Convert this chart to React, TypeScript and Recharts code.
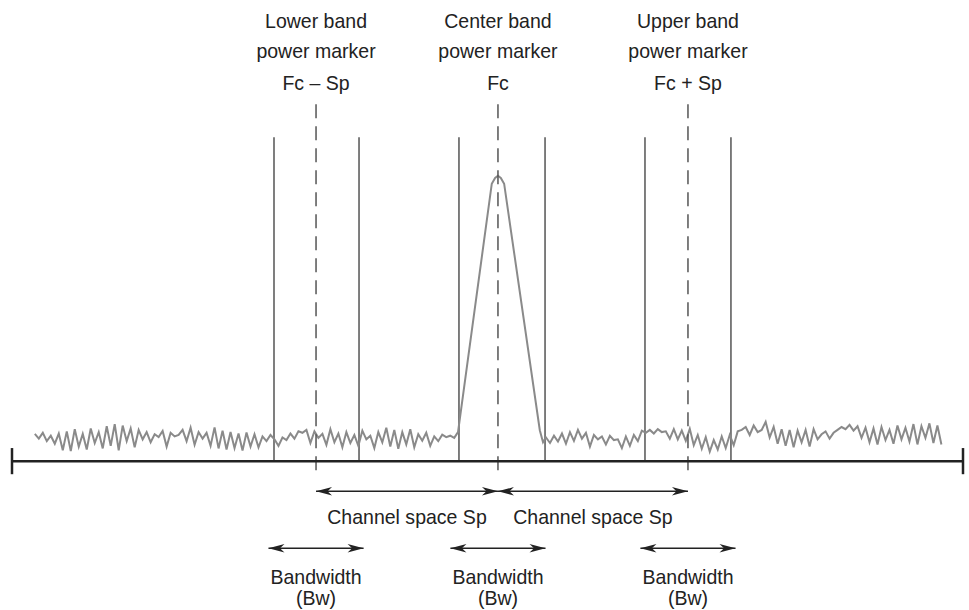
import { ComposedChart, Line, XAxis, YAxis, ReferenceLine } from 'recharts'

// frequency units 0..100 across the axis, level units above the baseline
const markerFreqs = [31.97, 51.1, 71.08]
const markerTitles = [
  ['Lower band', 'power marker', 'Fc – Sp'],
  ['Center band', 'power marker', 'Fc'],
  ['Upper band', 'power marker', 'Fc + Sp'],
]
const bandEdges = [
  [27.55, 36.49],
  [47.0, 56.05],
  [66.56, 75.6],
]
const bwHalf = 5.0
const channelLabel = 'Channel space Sp'
const bwLabel = ['Bandwidth', '(Bw)']

const bandTop = 89.2
const markerTop = 99.4
const markerBottom = -2.5
const channelArrowLevel = -8.3
const bwArrowLevel = -24

// sweep bins
const sweepStep = 0.42
const leftStart = 2.4
const leftLevels = [
  7.5, 6.2, 7.8, 5.5, 7.0, 4.8, 7.6,
  3.0, 8.2, 2.8, 8.8, 4.0, 7.5, 3.2, 9.0, 5.0, 8.0,
  3.5, 9.6, 4.2, 10.2, 3.0, 9.8, 5.5, 9.0, 3.8, 8.6,
  6.0, 8.0, 5.2, 7.4, 6.6, 8.3, 4.0, 7.8, 6.8, 7.2,
  8.6, 5.5, 9.2, 4.5, 8.0, 6.2, 7.8, 4.2, 9.3, 3.5,
  8.4, 3.2, 8.0, 3.6, 7.6, 2.9, 7.9, 4.0, 7.4, 3.8,
  6.8, 5.5, 7.2, 6.0, 4.2, 6.5, 5.8, 7.6, 6.2, 8.2,
  7.8, 8.6, 5.0, 8.2, 6.4, 7.5, 4.5, 8.8, 5.2, 7.6,
  3.8, 8.0, 5.0, 7.2, 4.2, 8.4, 6.0, 7.0, 3.6, 8.0,
  5.2, 9.2, 4.0, 8.6, 3.4, 8.0, 4.6, 8.8, 3.8, 7.4,
  5.6, 7.8, 4.2, 6.8, 5.5, 7.3, 6.6, 7.0, 6.4,
]
const peakFreqs = [46.9, 50.45, 50.8, 51.1, 51.4, 51.75, 55.5, 55.84]
const peakLevels = [8.0, 76.4, 78.0, 78.6, 78.0, 76.4, 8.5, 5.2]
const rightStart = 56.15
const rightLevels = [
  6.5, 5.0, 7.0, 5.4, 7.6, 4.8, 8.0, 5.6, 8.6, 6.2,
  7.8, 4.0, 7.2, 6.0, 6.8, 4.6, 7.0, 5.8, 6.0, 3.6,
  6.8, 4.2, 7.2, 5.5, 8.4, 7.8, 8.6, 7.6, 8.8, 8.0,
  8.2, 6.2, 8.8, 6.0, 8.4, 5.6, 8.9, 4.4, 7.2, 3.4,
  6.6, 2.6, 5.8, 3.2, 6.8, 3.6, 7.2, 4.4, 8.2, 8.6,
  9.4, 7.2, 9.8, 8.0, 8.6, 10.8, 6.5, 9.4, 4.8, 8.8,
  4.2, 8.6, 3.8, 8.4, 5.2, 8.6, 4.0, 8.8, 6.0, 7.4,
  8.2, 6.2, 7.8, 8.6, 9.4, 8.8, 10.0, 8.4, 9.6, 6.4,
  9.2, 5.2, 9.0, 4.6, 9.4, 5.8, 8.6, 4.8, 9.8, 6.0,
  9.2, 5.4, 10.2, 4.6, 9.6, 6.4, 10.4, 5.0, 9.8, 4.6,
]

const spectrum = [
  ...leftLevels.map((level, i) => ({ f: leftStart + i * sweepStep, level })),
  ...peakLevels.map((level, i) => ({ f: peakFreqs[i], level })),
  ...rightLevels.map((level, i) => ({ f: rightStart + i * sweepStep, level })),
]

const FONT = "'Liberation Sans Narrow', 'Liberation Sans', Arial, sans-serif"
const INK = '#222'

const head = (tx: number, ty: number, dir: number) => {
  const len = 16
  const w = 4.2
  const bx = tx - dir * len
  const nx = tx - dir * (len - 4.5)
  return `${tx},${ty} ${bx},${ty - w} ${nx},${ty} ${bx},${ty + w}`
}

const ArrowShape = (p: any) => {
  const { x1, y1, x2 } = p
  return (
    <g>
      <line x1={x1} y1={y1} x2={x2} y2={y1} stroke={INK} strokeWidth={1.4} />
      <polygon points={head(x1, y1, -1)} fill={INK} />
      <polygon points={head(x2, y1, 1)} fill={INK} />
    </g>
  )
}

// condensed look: squeeze the regular face horizontally
const TextBlock = ({ viewBox, lines, offsets }: any) => {
  const x = viewBox.x + viewBox.width / 2
  return (
    <g transform={`translate(${x},0) scale(0.93,1)`}>
      <text textAnchor="middle" fontFamily={FONT} fontSize={21} fill={INK}>
        {lines.map((t: string, i: number) => (
          <tspan key={i} x={0} y={viewBox.y + offsets[i]}>
            {t}
          </tspan>
        ))}
      </text>
    </g>
  )
}

const App = () => {
  return (
    <div style={{ position: 'absolute', left: 0, top: 0, background: '#fff' }}>
      <ComposedChart
        width={969}
        height={610}
        data={spectrum}
        margin={{ top: 0, right: 6, bottom: 0, left: 12 }}
      >
        <XAxis dataKey="f" type="number" domain={[0, 100]} hide allowDataOverflow />
        <YAxis type="number" domain={[-41, 127]} hide allowDataOverflow />

        {bandEdges.flat().map((f, i) => (
          <ReferenceLine
            key={`band-${i}`}
            segment={[{ x: f, y: 0 }, { x: f, y: bandTop }]}
            stroke="#3a3a3a"
            strokeWidth={1.3}
            ifOverflow="visible"
          />
        ))}

        <Line
          dataKey="level"
          type="linear"
          stroke="#8a8a8a"
          strokeWidth={2}
          dot={false}
          isAnimationActive={false}
        />

        {markerFreqs.map((f, i) => (
          <ReferenceLine
            key={`mk-${i}`}
            segment={[{ x: f, y: markerBottom }, { x: f, y: markerTop }]}
            stroke="#555"
            strokeWidth={1.5}
            strokeDasharray="14 8"
            ifOverflow="visible"
            label={<TextBlock lines={markerTitles[i]} offsets={[-72, -42, -10]} />}
          />
        ))}

        <ReferenceLine
          segment={[{ x: 0, y: 0 }, { x: 100, y: 0 }]}
          stroke={INK}
          strokeWidth={2.5}
          ifOverflow="visible"
        />
        {[0, 100].map((f) => (
          <ReferenceLine
            key={`end-${f}`}
            segment={[{ x: f, y: -3.6 }, { x: f, y: 3.6 }]}
            stroke={INK}
            strokeWidth={2.5}
            ifOverflow="visible"
          />
        ))}

        {[0, 1].map((i) => (
          <ReferenceLine
            key={`ch-${i}`}
            segment={[
              { x: markerFreqs[i], y: channelArrowLevel },
              { x: markerFreqs[i + 1], y: channelArrowLevel },
            ]}
            shape={ArrowShape}
            ifOverflow="visible"
            label={<TextBlock lines={[channelLabel]} offsets={[33]} />}
          />
        ))}

        {markerFreqs.map((f, i) => (
          <ReferenceLine
            key={`bw-${i}`}
            segment={[
              { x: f - bwHalf, y: bwArrowLevel },
              { x: f + bwHalf, y: bwArrowLevel },
            ]}
            shape={ArrowShape}
            ifOverflow="visible"
            label={<TextBlock lines={bwLabel} offsets={[36, 57]} />}
          />
        ))}
      </ComposedChart>
    </div>
  )
}

export default App
